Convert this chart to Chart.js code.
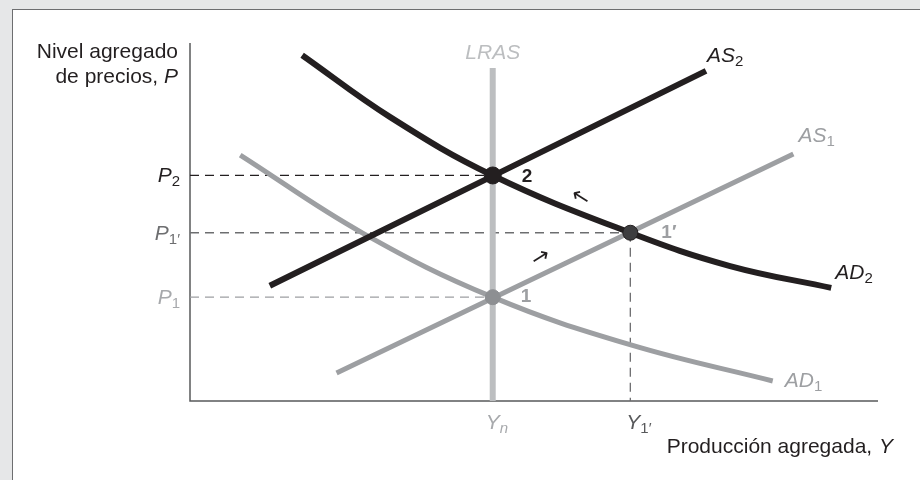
<!DOCTYPE html>
<html>
<head>
<meta charset="utf-8">
<script src="https://cdn.jsdelivr.net/npm/chart.js@4.4.1/dist/chart.umd.min.js"></script>
<style>
  html, body { margin: 0; padding: 0; }
  body { width: 920px; height: 480px; background: #e6e7e8; position: relative; overflow: hidden; }
  #panel { position: absolute; left: 12px; top: 9px; width: 908px; height: 471px; background: #fff;
           border-top: 1.5px solid #6d6e70; border-left: 1.5px solid #6d6e70; box-sizing: border-box; }
  canvas { position: absolute; left: 0; top: 0; }
</style>
</head>
<body>
<div id="panel"></div>
<canvas id="chart" width="920" height="480"></canvas>
<script>
// curves, in axis units (0-100 on both axes)
var ad1X = [7.3, 25.1, 44, 64.2, 84.7];
var ad1Y = [68.7, 46.9, 29, 15.6, 5.6];
var ad2X = [16.3, 29.1, 44, 64, 78.5, 93.2];
var ad2Y = [96.6, 79.3, 63, 47, 37.7, 31.6];
var as1X = [21.3, 87.7];
var as1Y = [7.8, 69];
var as2X = [11.6, 75];
var as2Y = [32.2, 92.2];
var lrasX = [44, 44];
var lrasY = [0, 93];

// equilibria: 2, 1', 1
var eqX = [44, 64, 44];
var eqY = [63, 47, 29];
var eqNames = ['2', '1\u2032', '1'];

// tick labels
var priceValues = [63, 47, 29];
var priceSubs = ['2', '1\u2032', '1'];
var outputValues = [44, 64];
var outputSubs = ['n', '1\u2032'];

var BLACK = '#231f20';
var GRAY = '#9d9fa2';
var LIGHT = '#bcbec0';
var DARK = '#6d6e70';
var FONT = '"Liberation Sans", Arial, sans-serif';
var SIZE = 21;

function pts(xs, ys) {
  var out = [];
  for (var i = 0; i < xs.length; i++) out.push({x: xs[i], y: ys[i]});
  return out;
}

function curve(data, color, width, order) {
  return {data: data, showLine: true, borderColor: color, borderWidth: width,
          pointRadius: 0, tension: 0.4, borderCapStyle: 'butt', order: order, clip: false};
}

function guide(data, color, order) {
  return {data: data, showLine: true, borderColor: color, borderWidth: 1.3,
          borderDash: [9, 6], pointRadius: 0, tension: 0, order: order, clip: false};
}

// main text in italics plus a small subscript
function subText(ctx, x, y, main, sub, color, align) {
  var subSize = Math.round(SIZE * 0.72);
  var mainFont = 'italic ' + SIZE + 'px ' + FONT;
  var subFont = (/[a-z]/.test(sub) ? 'italic ' : '') + subSize + 'px ' + FONT;
  ctx.font = mainFont;
  var w1 = ctx.measureText(main).width;
  ctx.font = subFont;
  var w2 = ctx.measureText(sub).width;
  var left = x;
  if (align === 'right') left = x - w1 - w2;
  if (align === 'center') left = x - (w1 + w2) / 2;
  ctx.fillStyle = color;
  ctx.textAlign = 'left';
  ctx.textBaseline = 'alphabetic';
  ctx.font = mainFont;
  ctx.fillText(main, left, y);
  ctx.font = subFont;
  ctx.fillText(sub, left + w1, y + 4);
}

// a thin arrow glyph turned to follow the curve
function arrow(ctx, x, y, glyph, angle) {
  ctx.save();
  ctx.translate(x, y);
  ctx.rotate(angle * Math.PI / 180);
  ctx.fillStyle = BLACK;
  ctx.font = '22px "DejaVu Sans", sans-serif';
  ctx.textAlign = 'center';
  ctx.textBaseline = 'middle';
  ctx.fillText(glyph, 0, 0);
  ctx.restore();
}

var labels = {
  id: 'labels',
  beforeDatasetsDraw: function(chart) {
    var ctx = chart.ctx, a = chart.chartArea;
    ctx.save();
    ctx.strokeStyle = '#58595b';
    ctx.lineWidth = 1.5;
    ctx.beginPath();
    ctx.moveTo(a.left, a.top);
    ctx.lineTo(a.left, a.bottom);
    ctx.lineTo(a.right, a.bottom);
    ctx.stroke();
    ctx.restore();
  },
  afterDatasetsDraw: function(chart) {
    var ctx = chart.ctx, a = chart.chartArea;
    var xs = chart.scales.x, ys = chart.scales.y;
    ctx.save();

    // axis titles
    ctx.fillStyle = BLACK;
    ctx.font = SIZE + 'px ' + FONT;
    ctx.textAlign = 'right';
    ctx.fillText('Nivel agregado', a.left - 12, 58);
    ctx.fillText('de precios, ', a.left - 12 - 14, 83);
    ctx.font = 'italic ' + SIZE + 'px ' + FONT;
    ctx.fillText('P', a.left - 12, 83);
    ctx.font = SIZE + 'px ' + FONT;
    ctx.fillText('Producci\u00f3n agregada, ', 893 - 15, a.bottom + 52);
    ctx.font = 'italic ' + SIZE + 'px ' + FONT;
    ctx.fillText('Y', 893, a.bottom + 52);

    // price ticks
    var pColors = [BLACK, DARK, '#a7a9ac'];
    for (var i = 0; i < priceValues.length; i++) {
      subText(ctx, a.left - 10, ys.getPixelForValue(priceValues[i]) + 7, 'P', priceSubs[i], pColors[i], 'right');
    }
    // output ticks
    var yColors = ['#a7a9ac', '#58595b'];
    var yOff = [-7, -4];
    for (var j = 0; j < outputValues.length; j++) {
      subText(ctx, xs.getPixelForValue(outputValues[j]) + yOff[j], a.bottom + 28, 'Y', outputSubs[j], yColors[j], 'left');
    }

    // curve names
    ctx.font = 'italic ' + SIZE + 'px ' + FONT;
    ctx.fillStyle = LIGHT;
    ctx.textAlign = 'center';
    ctx.fillText('LRAS', xs.getPixelForValue(lrasX[1]), ys.getPixelForValue(lrasY[1]) - 9);
    subText(ctx, xs.getPixelForValue(as2X[1]) + 1, ys.getPixelForValue(as2Y[1]) - 9, 'AS', '2', BLACK, 'left');
    subText(ctx, xs.getPixelForValue(as1X[1]) + 5, ys.getPixelForValue(as1Y[1]) - 12, 'AS', '1', GRAY, 'left');
    subText(ctx, xs.getPixelForValue(ad2X[5]) + 4, ys.getPixelForValue(ad2Y[5]) - 9, 'AD', '2', BLACK, 'left');
    subText(ctx, xs.getPixelForValue(ad1X[4]) + 12, ys.getPixelForValue(ad1Y[4]) + 6, 'AD', '1', GRAY, 'left');

    // equilibrium numbers
    var eColors = [BLACK, GRAY, GRAY];
    var eDx = [29, 31, 28];
    var eDy = [7, 5, 5];
    ctx.font = 'bold 19px ' + FONT;
    ctx.textAlign = 'left';
    for (var k = 0; k < eqX.length; k++) {
      ctx.fillStyle = eColors[k];
      ctx.fillText(eqNames[k], xs.getPixelForValue(eqX[k]) + eDx[k], ys.getPixelForValue(eqY[k]) + eDy[k]);
    }

    // movement arrows
    arrow(ctx, 580, 198, '\u2190', 32);
    arrow(ctx, 541, 258, '\u2192', -32);
    ctx.restore();
  }
};

new Chart(document.getElementById('chart'), {
  type: 'scatter',
  data: {
    datasets: [
      {data: pts(eqX, eqY), showLine: false, order: 0, clip: false,
       pointRadius: [8.5, 7.5, 7.5], pointBackgroundColor: [BLACK, '#3d3d3f', '#8d8f92'],
       pointBorderColor: [BLACK, BLACK, '#8d8f92'], pointBorderWidth: 1},
      curve(pts(as2X, as2Y), BLACK, 6, 1),
      curve(pts(ad2X, ad2Y), BLACK, 6, 2),
      curve(pts(as1X, as1Y), GRAY, 5, 3),
      curve(pts(ad1X, ad1Y), GRAY, 5, 4),
      curve(pts(lrasX, lrasY), LIGHT, 6, 5),
      guide([{x: 0, y: priceValues[0]}, {x: eqX[0], y: priceValues[0]}], BLACK, 6),
      guide([{x: 0, y: priceValues[1]}, {x: eqX[1], y: priceValues[1]}], DARK, 7),
      guide([{x: 0, y: priceValues[2]}, {x: eqX[2], y: priceValues[2]}], GRAY, 8),
      guide([{x: outputValues[1], y: eqY[1]}, {x: outputValues[1], y: 0}], DARK, 9)
    ]
  },
  options: {
    responsive: false,
    animation: false,
    events: [],
    layout: {padding: {left: 190, top: 43, right: 42, bottom: 79}},
    scales: {
      x: {type: 'linear', min: 0, max: 100, display: false},
      y: {type: 'linear', min: 0, max: 100, display: false}
    },
    plugins: {legend: {display: false}, tooltip: {enabled: false}}
  },
  plugins: [labels]
});
</script>
</body>
</html>
